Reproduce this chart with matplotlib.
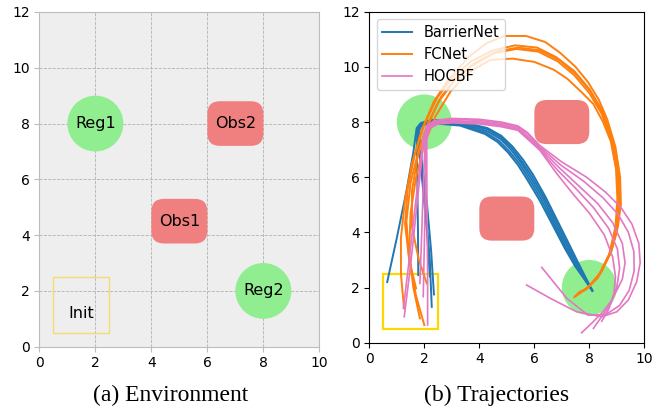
import matplotlib
matplotlib.use("Agg")
import matplotlib.pyplot as plt
from matplotlib.patches import Circle, FancyBboxPatch, Rectangle

# ── environment ──────────────────────────────────────────────────────────────
regions = {"Reg1": (2, 8), "Reg2": (8, 2)}
region_radius = 1.0
obstacles = {"Obs1": (5, 4.5), "Obs2": (7, 8)}
obs_w, obs_h = 2.0, 1.6
init_box = (0.5, 0.5, 2.0, 2.0)

# ── trajectories ────────────────────────────────────────────────────────────
barriernet = [
    [(0.65, 2.2), (1.0, 3.8), (1.35, 5.5), (1.6, 6.9), (1.72, 7.78), (1.88, 7.97), (2.3, 8.08), (3.3, 8.02),
     (4.3, 7.78), (4.8, 7.5), (5.2, 7.12), (5.58, 6.65), (5.95, 6.1), (6.4, 5.3), (6.9, 4.3), (7.3, 3.5),
     (7.62, 2.85), (8.1, 1.9)],
    [(1.78, 2.45), (1.77, 4.0), (1.75, 5.5), (1.73, 6.8), (1.74, 7.76), (1.86, 7.94), (2.28, 8.05), (3.3, 7.99),
     (4.28, 7.74), (4.78, 7.45), (5.17, 7.07), (5.53, 6.6), (5.9, 6.05), (6.35, 5.28), (6.85, 4.28), (7.25, 3.48),
     (7.58, 2.83), (8.1, 1.9)],
    [(2.2, 2.4), (2.1, 4.0), (1.95, 5.6), (1.82, 6.9), (1.76, 7.74), (1.86, 7.92), (2.27, 8.02), (3.3, 7.95),
     (4.25, 7.68), (4.75, 7.4), (5.13, 7.02), (5.5, 6.55), (5.85, 6.0), (6.3, 5.25), (6.8, 4.25), (7.2, 3.45),
     (7.55, 2.82), (8.1, 1.9)],
    [(2.27, 1.3), (2.2, 3.0), (2.05, 4.8), (1.9, 6.4), (1.78, 7.7), (1.88, 7.9), (2.25, 7.99), (3.3, 7.91),
     (4.22, 7.62), (4.7, 7.33), (5.08, 6.95), (5.45, 6.5), (5.8, 5.95), (6.25, 5.2), (6.75, 4.22), (7.15, 3.42),
     (7.5, 2.8), (8.1, 1.9)],
    [(2.35, 1.75), (2.25, 3.3), (2.1, 5.0), (1.92, 6.5), (1.8, 7.68), (1.9, 7.88), (2.25, 7.96), (3.3, 7.87),
     (4.2, 7.57), (4.66, 7.28), (5.04, 6.9), (5.4, 6.45), (5.75, 5.9), (6.2, 5.15), (6.7, 4.2), (7.12, 3.4),
     (7.48, 2.78), (8.12, 1.88)],
]

fcnet = [
    [(1.26, 1.25), (1.15, 2.5), (1.15, 3.8), (1.3, 5.2), (1.55, 6.5), (1.9, 7.7), (2.35, 8.75), (2.85, 9.5),
     (3.6, 10.35), (4.25, 10.85), (4.9, 11.12), (5.7, 11.12), (6.4, 10.9), (6.95, 10.5), (7.5, 10.0),
     (7.95, 9.45), (8.35, 8.8), (8.65, 8.1), (8.95, 7.1), (9.12, 6.0), (9.15, 5.0), (9.0, 4.0), (8.75, 3.2),
     (8.3, 2.35), (7.9, 1.95), (7.5, 1.7)],
    [(1.7, 1.97), (1.45, 3.0), (1.3, 4.3), (1.4, 5.6), (1.65, 6.8), (2.0, 7.9), (2.45, 8.85), (3.0, 9.6),
     (3.7, 10.2), (4.5, 10.6), (5.3, 10.78), (6.1, 10.7), (6.8, 10.35), (7.45, 9.85), (8.0, 9.2), (8.45, 8.45),
     (8.8, 7.5), (9.05, 6.4), (9.12, 5.3), (9.05, 4.3), (8.82, 3.4), (8.45, 2.6), (8.0, 2.05), (7.45, 1.65)],
    [(2.0, 0.64), (1.7, 1.7), (1.45, 3.0), (1.35, 4.4), (1.5, 5.8), (1.8, 7.0), (2.15, 8.0), (2.6, 8.9),
     (3.15, 9.6), (3.85, 10.15), (4.6, 10.55), (5.4, 10.7), (6.2, 10.6), (6.9, 10.25), (7.5, 9.75), (8.05, 9.1),
     (8.5, 8.3), (8.83, 7.35), (9.05, 6.3), (9.1, 5.2), (9.02, 4.2), (8.8, 3.3), (8.4, 2.5), (7.95, 2.0),
     (7.55, 1.75)],
    [(2.09, 2.15), (1.8, 3.0), (1.55, 4.2), (1.55, 5.5), (1.75, 6.7), (2.05, 7.7), (2.5, 8.7), (3.05, 9.45),
     (3.75, 10.05), (4.55, 10.5), (5.35, 10.65), (6.15, 10.55), (6.85, 10.2), (7.45, 9.7), (8.0, 9.05),
     (8.45, 8.3), (8.8, 7.35), (9.0, 6.3), (9.06, 5.2), (8.98, 4.2), (8.75, 3.25), (8.35, 2.45), (7.9, 1.95),
     (7.6, 1.8)],
    [(1.84, 0.88), (1.6, 2.0), (1.45, 3.3), (1.5, 4.7), (1.7, 6.0), (2.0, 7.2), (2.4, 8.2), (2.95, 9.1),
     (3.6, 9.8), (4.4, 10.25), (5.2, 10.3), (6.0, 10.18), (6.7, 9.9), (7.2, 9.57), (7.7, 9.1), (8.15, 8.65),
     (8.5, 8.0), (8.78, 7.3), (8.97, 6.3), (9.02, 5.2), (8.95, 4.2), (8.72, 3.2), (8.3, 2.35), (7.85, 1.92),
     (7.65, 1.85)],
]

hocbf = [
    [(1.24, 1.25), (1.45, 3.0), (1.65, 4.8), (1.85, 6.5), (1.97, 7.5), (2.1, 7.88), (2.4, 8.06), (3.0, 8.13),
     (4.0, 8.1), (4.8, 8.0), (5.4, 7.86), (5.75, 7.62), (6.2, 7.15), (7.0, 6.55), (7.9, 6.0), (8.6, 5.45),
     (9.15, 4.9), (9.55, 4.3), (9.8, 3.6), (9.85, 2.9), (9.72, 2.2), (9.42, 1.55), (9.0, 1.12), (8.45, 0.94),
     (7.54, 1.12), (6.6, 1.6), (5.72, 2.09)],
    [(1.27, 0.94), (1.5, 2.8), (1.7, 4.7), (1.88, 6.4), (1.99, 7.45), (2.12, 7.85), (2.42, 8.03), (3.0, 8.1),
     (4.0, 8.06), (4.8, 7.96), (5.4, 7.82), (5.75, 7.58), (6.2, 7.1), (6.95, 6.45), (7.8, 5.85), (8.5, 5.25),
     (9.05, 4.65), (9.42, 4.0), (9.62, 3.3), (9.63, 2.6), (9.45, 1.9), (9.1, 1.35), (8.6, 1.02), (7.95, 1.0),
     (7.18, 1.61), (6.27, 2.73)],
    [(1.84, 2.15), (1.9, 3.8), (1.95, 5.3), (2.0, 6.6), (2.03, 7.45), (2.15, 7.82), (2.45, 7.99), (3.0, 8.05),
     (4.0, 8.01), (4.8, 7.91), (5.4, 7.77), (5.72, 7.52), (6.2, 7.05), (6.9, 6.35), (7.6, 5.7), (8.3, 5.05),
     (8.85, 4.35), (9.2, 3.6), (9.3, 2.9), (9.2, 2.3), (9.0, 1.9), (8.8, 1.52), (8.5, 1.12), (8.1, 0.72),
     (7.72, 0.36)],
    [(1.96, 1.67), (2.0, 3.5), (2.03, 5.2), (2.05, 6.6), (2.06, 7.45), (2.18, 7.8), (2.48, 7.96), (3.0, 8.01),
     (4.0, 7.97), (4.8, 7.87), (5.4, 7.73), (5.7, 7.48), (6.2, 7.0), (6.85, 6.25), (7.5, 5.6), (8.15, 4.9),
     (8.7, 4.15), (9.02, 3.4), (9.1, 2.7), (9.0, 2.0), (8.75, 1.35), (8.45, 0.95), (8.15, 0.52)],
    [(2.12, 0.64), (2.12, 2.5), (2.1, 4.5), (2.09, 6.3), (2.09, 7.4), (2.2, 7.77), (2.5, 7.93), (3.0, 7.97),
     (4.0, 7.93), (4.8, 7.83), (5.4, 7.7), (5.68, 7.45), (6.2, 6.98), (6.8, 6.15), (7.4, 5.4), (8.0, 4.7),
     (8.55, 3.9), (8.85, 3.1), (8.95, 2.4), (8.9, 1.8), (8.7, 1.2), (8.45, 0.78)],
]

ticks_x = [0, 2, 4, 6, 8, 10]
ticks_y = [0, 2, 4, 6, 8, 10, 12]

REG_COLOR = "lightgreen"
OBS_COLOR = "lightcoral"


def draw_env(ax, labels, init_color, init_lw):
    for name, (cx, cy) in regions.items():
        ax.add_patch(Circle((cx, cy), region_radius, color=REG_COLOR, lw=0, zorder=2))
        if labels:
            ax.text(cx, cy, name, ha="center", va="center", fontsize=11.5, zorder=4)
    for name, (cx, cy) in obstacles.items():
        ax.add_patch(FancyBboxPatch((cx - obs_w / 2, cy - obs_h / 2), obs_w, obs_h,
                                    boxstyle="round,pad=0,rounding_size=0.45",
                                    fc=OBS_COLOR, ec="none", zorder=2))
        if labels:
            ax.text(cx, cy, name, ha="center", va="center", fontsize=11.5, zorder=4)
    x0, y0, w, h = init_box
    ax.add_patch(Rectangle((x0, y0), w, h, fill=False, ec=init_color, lw=init_lw, zorder=3))
    if labels:
        ax.text(x0 + w / 2, 1.2, "Init", ha="center", va="center", fontsize=11.5, zorder=4)


fig = plt.figure(figsize=(6.67, 4.15), dpi=100)

# ── (a) environment ─────────────────────────────────────────────────────────
ax1 = fig.add_axes([0.059, 0.1646, 0.4198, 0.8065])
ax1.set_facecolor("#eeeeee")
for s in ax1.spines.values():
    s.set_color("#bcbcbc")
ax1.grid(True, ls="--", color="#b2b2b2", lw=0.6)
ax1.set_axisbelow(True)
ax1.tick_params(colors="#bcbcbc", labelcolor="black", labelsize=10, length=3.5)
draw_env(ax1, True, "#f5dc70", 1.0)
ax1.set_xlim(0, 10)
ax1.set_ylim(0, 12)
ax1.set_xticks(ticks_x)
ax1.set_yticks(ticks_y)

# ── (b) trajectories ────────────────────────────────────────────────────────
ax2 = fig.add_axes([0.5537, 0.1742, 0.4123, 0.7976])
draw_env(ax2, False, "gold", 1.6)
series = [("BarrierNet", barriernet, "#1f77b4", 1.4),
          ("FCNet", fcnet, "#ff7f0e", 1.4),
          ("HOCBF", hocbf, "#e377c2", 1.2)]
for name, trajs, color, lw in series:
    for i, tr in enumerate(trajs):
        xs = [p[0] for p in tr]
        ys = [p[1] for p in tr]
        ax2.plot(xs, ys, color=color, lw=lw, zorder=5, label=name if i == 0 else None)
ax2.set_xlim(0, 10)
ax2.set_ylim(0, 12)
ax2.set_xticks(ticks_x)
ax2.set_yticks(ticks_y)
ax2.tick_params(labelsize=10)
ax2.legend(loc="upper left", fontsize=10.5, framealpha=0.8)

fig.text(0.256, 0.048, "(a) Environment", ha="center", va="center",
         fontsize=17, family="Liberation Serif")
fig.text(0.744, 0.048, "(b) Trajectories", ha="center", va="center",
         fontsize=17, family="Liberation Serif")

fig.savefig("out.png", dpi=100)
